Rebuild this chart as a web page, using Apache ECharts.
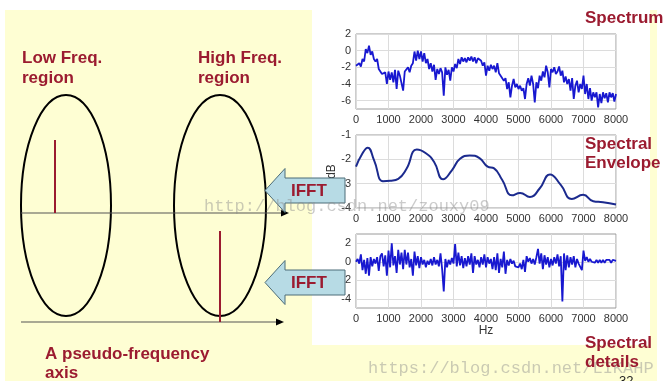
<!DOCTYPE html>
<html>
<head>
<meta charset="utf-8">
<script src="https://cdn.jsdelivr.net/npm/echarts@6/dist/echarts.min.js"></script>
<style>html,body{margin:0;padding:0;background:#fff}#c{width:669px;height:389px}</style>
</head>
<body>
<div id="c"></div>
<script>
// ---------- data ----------
const xTicks = [0, 1000, 2000, 3000, 4000, 5000, 6000, 7000, 8000];
const stepHz = 50; // spacing of the noisy spectra samples
const spectrumDb = [
 -1.8,-1.6,-1.5,-1.9,-1.0,-1.3,0.2,-0.3,0.6,-0.5,-0.1,-1.0,-1.3,-1.0,-2.2,-2.5,-2.8,-3.0,-2.6,-4.0,
 -2.5,-3.5,-2.6,-3.8,-2.3,-4.6,-2.4,-3.0,-2.8,-4.8,-2.5,-2.4,-2.0,-2.6,-1.8,-1.5,-0.1,-1.2,0.0,-1.0,
 -0.1,-1.3,-0.3,-1.5,-1.0,-2.2,-1.5,-2.5,-1.7,-3.5,-2.2,-2.8,-2.1,-2.6,-5.4,-2.0,-2.9,-2.3,-3.6,-2.0,
 -2.5,-1.6,-2.1,-1.0,-1.6,-0.8,-1.3,-0.9,-1.4,-0.8,-1.2,-0.7,-1.3,-0.8,-1.5,-0.9,-0.7,-1.2,-1.8,-1.4,
 -3.0,-1.8,-2.4,-1.7,-2.2,-1.8,-2.6,-1.5,-2.7,-3.0,-3.2,-3.6,-3.3,-4.6,-3.8,-5.6,-4.2,-3.4,-4.4,-4.0,
 -4.6,-4.2,-4.8,-4.5,-5.8,-4.0,-3.3,-4.2,-3.0,-4.0,-6.2,-3.8,-4.5,-3.0,-3.6,-2.5,-3.2,-1.8,-2.6,-4.4,
 -2.2,-2.6,-2.0,-2.8,-2.5,-1.9,-3.0,-2.4,-3.8,-3.1,-4.0,-3.4,-4.8,-3.3,-5.8,-4.2,-3.6,-5.0,-4.0,-4.6,
 -3.0,-5.2,-4.0,-5.8,-4.5,-6.0,-5.0,-5.6,-5.0,-6.8,-5.2,-6.3,-5.0,-5.7,-5.1,-6.2,-5.0,-5.6,-5.1,-6.1,
 -5.2
];
const envelopeHz = [0,180,360,560,830,1050,1300,1550,1870,2150,2400,2680,2950,3200,3500,3800,4050,4250,4500,4800,5050,5350,5650,5970,6300,6640,6990,7300,7600,8000];
const envelopeDb = [-2.3,-1.8,-1.52,-2.05,-2.9,-2.88,-2.8,-2.4,-1.6,-1.75,-2.1,-2.82,-2.45,-1.98,-1.84,-1.95,-2.3,-2.37,-2.85,-3.48,-3.38,-3.55,-3.2,-2.62,-3.05,-3.63,-3.46,-3.72,-3.76,-3.86];
const detailsDb = [
 0.0,0.3,-0.2,0.8,-0.9,0.2,-1.3,0.4,-1.5,0.5,-0.5,0.3,-0.2,0.5,-1.0,0.6,0.9,-0.5,0.7,-1.5,
 1.2,-0.6,2.0,-0.4,0.6,-1.2,1.3,-0.3,1.0,-0.8,1.3,-0.3,1.0,-0.6,0.3,-1.5,1.1,-0.4,0.6,-0.7,
 0.5,-0.3,0.2,-0.6,0.1,-0.3,0.3,-0.4,0.5,-0.3,0.2,-0.5,0.9,-0.8,-3.2,0.3,-0.6,0.2,-0.3,0.4,
 -0.2,1.9,-0.5,1.0,-0.4,0.6,-0.7,0.4,-0.5,0.6,-0.3,0.9,-1.2,0.6,-0.3,0.2,-0.6,0.5,-0.3,0.8,
 -0.6,0.5,-0.2,0.3,-0.8,0.5,-0.9,0.9,-1.2,0.3,-0.6,1.1,-1.3,0.2,-0.4,0.3,-0.2,0.1,-0.5,-0.3,
 -0.6,-0.2,-0.8,0.2,-1.1,0.6,0.0,0.4,-0.2,0.3,-0.3,0.5,1.4,-0.2,0.9,-0.8,0.7,-0.3,0.5,-0.6,
 0.3,-0.4,0.5,-0.2,0.8,-0.5,0.6,-4.3,0.9,-0.9,0.7,-0.6,0.5,-0.3,0.6,-0.6,0.3,-0.2,-0.4,-0.9,
 1.2,0.1,0.5,0.0,0.3,0.0,0.2,-0.1,0.2,-0.1,0.2,-0.1,0.2,-0.1,0.2,0.0,0.2,-0.1,0.2,0.0,
 0.1
];
const spectrumRange = [-7, 2];
const envelopeRange = [-4, -1];
const detailsRange = [-5, 3];

// ---------- build ----------
const pairs = (ys) => ys.map((v, i) => [i * stepHz, v]);
const envPairs = envelopeHz.map((h, i) => [h, envelopeDb[i]]);

const red = '#9b1b30';
const tickFont = { fontFamily: 'Liberation Sans', fontSize: 11, color: '#333' };
const gridLine = '#dcdcdc';

function xAx(idx, extra) {
  return Object.assign({
    gridIndex: idx, type: 'value', min: xTicks[0], max: xTicks[xTicks.length - 1], interval: xTicks[1] - xTicks[0],
    axisLine: { show: false }, axisTick: { show: false },
    axisLabel: Object.assign({ margin: 5, formatter: v => String(v) }, tickFont),
    splitLine: { show: true, lineStyle: { color: gridLine, width: 1 } }
  }, extra || {});
}
function yAx(idx, range, everyOther, extra) {
  return Object.assign({
    gridIndex: idx, type: 'value', min: range[0], max: range[1], interval: 1,
    axisLine: { show: false }, axisTick: { show: false },
    axisLabel: Object.assign({ margin: 5, formatter: v => (everyOther && Math.abs(v % 2) === 1) ? '' : String(v) }, tickFont),
    splitLine: { show: true, lineStyle: { color: everyOther ? ['rgba(0,0,0,0)', gridLine] : gridLine, width: 1 } }
  }, extra || {});
}

const T = (text, x, y, style) => ({
  type: 'text', x: x, y: y, z: 60,
  style: Object.assign({ text: text, fill: red, font: 'bold 17px "Liberation Sans", Arial', textVerticalAlign: 'middle' }, style || {})
});
function arrow(cy) {
  return {
    type: 'polygon', z: 55,
    shape: { points: [[265, cy], [285, cy - 22], [285, cy - 12.5], [345, cy - 12.5], [345, cy + 12.5], [285, cy + 12.5], [285, cy + 22]] },
    style: { fill: '#b7dbe5', stroke: '#4d6d78', lineWidth: 1 }
  };
}

const graphic = [
  { type: 'rect', z: -10, shape: { x: 5, y: 10, width: 652, height: 371 }, style: { fill: '#fefed3' } },
  { type: 'rect', z: -9, shape: { x: 312, y: 0, width: 338, height: 345 }, style: { fill: '#ffffff' } },
  // schematic
  { type: 'ellipse', z: 20, shape: { cx: 66, cy: 205.5, rx: 45, ry: 110.5 }, style: { fill: 'none', stroke: '#000', lineWidth: 2 } },
  { type: 'ellipse', z: 20, shape: { cx: 220, cy: 205.5, rx: 46, ry: 110.5 }, style: { fill: 'none', stroke: '#000', lineWidth: 2 } },
  { type: 'line', z: 21, shape: { x1: 21, y1: 213, x2: 283, y2: 213 }, style: { stroke: '#555', lineWidth: 1.2 } },
  { type: 'polygon', z: 21, shape: { points: [[281, 209.5], [289, 213], [281, 216.5]] }, style: { fill: '#000' } },
  { type: 'line', z: 21, shape: { x1: 21, y1: 322, x2: 278, y2: 322 }, style: { stroke: '#555', lineWidth: 1.2 } },
  { type: 'polygon', z: 21, shape: { points: [[276, 318.5], [284, 322], [276, 325.5]] }, style: { fill: '#000' } },
  { type: 'line', z: 22, shape: { x1: 55, y1: 140, x2: 55, y2: 213 }, style: { stroke: red, lineWidth: 2 } },
  { type: 'line', z: 22, shape: { x1: 220, y1: 231, x2: 220, y2: 322 }, style: { stroke: red, lineWidth: 2 } },
  arrow(190.5), arrow(282.5),
  T('IFFT', 291, 191), T('IFFT', 291, 283),
  T('Low Freq.', 22, 58), T('region', 22, 78),
  T('High Freq.', 198, 58), T('region', 198, 78),
  T('A pseudo-frequency', 45, 354), T('axis', 45, 373),
  T('Spectrum', 585, 18), T('Spectral', 585, 144), T('Envelope', 585, 163),
  T('Spectral', 585, 343), T('details', 585, 362),
  // watermarks
  { type: 'text', z: 58, x: 204, y: 206, style: { text: 'http://blog.csdn.net/zouxy09', fill: 'rgba(140,140,140,0.45)', font: '17px "Liberation Mono"', textVerticalAlign: 'middle' } },
  { type: 'text', z: 58, x: 368, y: 368, style: { text: 'https://blog.csdn.net/LIKAHP', fill: 'rgba(140,140,140,0.45)', font: '17px "Liberation Mono"', textVerticalAlign: 'middle' } },
  { type: 'text', z: 40, x: 619, y: 381, style: { text: '32', fill: '#222', font: '13px "Liberation Sans"', textVerticalAlign: 'middle' } },
  { type: 'rect', z: 45, shape: { x: 0, y: 381, width: 669, height: 8 }, style: { fill: '#ffffff' } }
];

const chart = echarts.init(document.getElementById('c'), null, { renderer: 'canvas' });
chart.setOption({
  backgroundColor: '#ffffff',
  animation: false,
  grid: [
    { left: 356, top: 34, width: 260, height: 75, show: true, borderColor: '#9a9a9a', borderWidth: 1, backgroundColor: 'transparent' },
    { left: 356, top: 135, width: 260, height: 73, show: true, borderColor: '#9a9a9a', borderWidth: 1, backgroundColor: 'transparent' },
    { left: 356, top: 234, width: 260, height: 74, show: true, borderColor: '#9a9a9a', borderWidth: 1, backgroundColor: 'transparent' }
  ],
  xAxis: [
    xAx(0), xAx(1),
    xAx(2, { name: 'Hz', nameLocation: 'middle', nameGap: 17, nameTextStyle: { fontFamily: 'Liberation Sans', fontSize: 12, color: '#333' } })
  ],
  yAxis: [
    yAx(0, spectrumRange, true),
    yAx(1, envelopeRange, false, { name: 'dB', nameLocation: 'middle', nameGap: 12, nameTextStyle: { fontFamily: 'Liberation Sans', fontSize: 12, color: '#333' } }),
    yAx(2, detailsRange, true)
  ],
  series: [
    { type: 'line', xAxisIndex: 0, yAxisIndex: 0, data: pairs(spectrumDb), showSymbol: false, lineStyle: { color: '#1818d0', width: 1.8 } },
    { type: 'line', xAxisIndex: 1, yAxisIndex: 1, data: envPairs, showSymbol: false, smooth: 0.5, lineStyle: { color: '#1b2a8e', width: 2 } },
    { type: 'line', xAxisIndex: 2, yAxisIndex: 2, data: pairs(detailsDb), showSymbol: false, lineStyle: { color: '#1818d0', width: 1.8 } }
  ],
  graphic: graphic
});
</script>
</body>
</html>
